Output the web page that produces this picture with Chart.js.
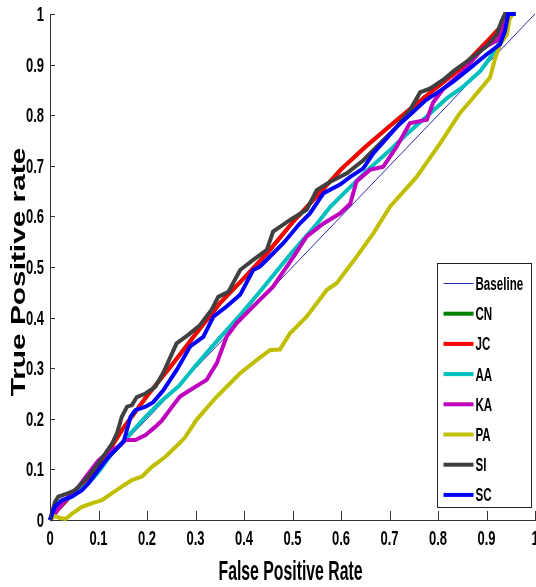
<!DOCTYPE html>
<html>
<head>
<meta charset="utf-8">
<script src="https://cdn.jsdelivr.net/npm/chart.js@4/dist/chart.umd.min.js"></script>
<style>
  html, body { margin: 0; padding: 0; background: #fff; overflow: hidden; }
  #wrap { width: 536px; height: 587px; overflow: hidden; }
</style>
</head>
<body>
<div id="wrap"><canvas id="roc" width="545" height="587"></canvas></div>
<script>
// etiquetas de los ejes
var xTickLabels = ['0','0.1','0.2','0.3','0.4','0.5','0.6','0.7','0.8','0.9','1'];
var yTickLabels = ['0','0.1','0.2','0.3','0.4','0.5','0.6','0.7','0.8','0.9','1'];
var xTitulo = 'False Positive Rate';
var yTitulo = 'True Positive rate';

// nombres de las curvas (orden de la leyenda)
var names = ['Baseline','CN','JC','AA','KA','PA','SI','SC'];

// puntos [FPR, TPR]
var baseline = [[0,0],[1,1]];

var jc = [[0,0],[0.02,0.025],[0.05,0.055],[0.08,0.085],[0.1,0.11],[0.13,0.15],[0.15,0.18],[0.2,0.245],
  [0.25,0.305],[0.3,0.367],[0.35,0.428],[0.4,0.478],[0.45,0.53],[0.5,0.588],[0.55,0.64],[0.6,0.693],
  [0.65,0.737],[0.7,0.778],[0.75,0.818],[0.8,0.857],[0.85,0.895],[0.9,0.945],[0.925,0.97],[0.94,0.99],
  [0.945,1],[0.96,1]];

// CN queda tapada por JC
var cn = [[0,0],[0.02,0.025],[0.05,0.055],[0.08,0.085],[0.1,0.11],[0.13,0.15],[0.15,0.18],[0.2,0.245],
  [0.25,0.305],[0.3,0.367],[0.35,0.428],[0.4,0.478],[0.45,0.53],[0.5,0.588],[0.55,0.64],[0.6,0.693],
  [0.65,0.737],[0.7,0.778],[0.75,0.818],[0.8,0.857],[0.85,0.895],[0.9,0.945],[0.925,0.97],[0.94,0.99],
  [0.945,1],[0.96,1]];

var aa = [[0,0],[0.015,0.025],[0.031,0.039],[0.055,0.055],[0.079,0.072],[0.1,0.095],[0.128,0.132],
  [0.16,0.165],[0.197,0.204],[0.23,0.235],[0.266,0.265],[0.3,0.305],[0.35,0.36],[0.392,0.405],
  [0.43,0.448],[0.46,0.483],[0.5,0.53],[0.55,0.585],[0.577,0.618],[0.6,0.64],[0.653,0.69],[0.7,0.73],
  [0.715,0.744],[0.75,0.775],[0.784,0.804],[0.82,0.835],[0.85,0.855],[0.887,0.887],[0.907,0.913],
  [0.928,0.946],[0.942,0.99],[0.95,1],[0.96,1]];

var ka = [[0,0],[0.015,0.02],[0.031,0.039],[0.059,0.066],[0.079,0.092],[0.1,0.118],[0.121,0.135],
  [0.141,0.145],[0.155,0.158],[0.176,0.158],[0.197,0.168],[0.217,0.184],[0.231,0.197],[0.252,0.224],
  [0.268,0.244],[0.289,0.257],[0.323,0.277],[0.344,0.31],[0.364,0.362],[0.385,0.389],[0.419,0.422],
  [0.46,0.461],[0.474,0.481],[0.502,0.52],[0.529,0.56],[0.564,0.586],[0.598,0.606],[0.619,0.625],
  [0.632,0.669],[0.66,0.692],[0.687,0.698],[0.715,0.738],[0.742,0.784],[0.777,0.791],[0.79,0.825],
  [0.811,0.852],[0.852,0.887],[0.893,0.933],[0.924,0.949],[0.942,1],[0.955,1]];

var pa = [[0,0],[0.01,0.008],[0.02,0.004],[0.032,0.002],[0.045,0.012],[0.066,0.026],[0.086,0.033],
  [0.107,0.039],[0.128,0.053],[0.148,0.066],[0.169,0.079],[0.19,0.086],[0.21,0.105],[0.238,0.125],
  [0.266,0.151],[0.279,0.164],[0.302,0.198],[0.344,0.244],[0.392,0.29],[0.426,0.316],[0.454,0.336],
  [0.474,0.337],[0.495,0.369],[0.529,0.402],[0.571,0.455],[0.591,0.468],[0.632,0.52],[0.667,0.567],
  [0.701,0.619],[0.756,0.678],[0.804,0.744],[0.845,0.804],[0.866,0.827],[0.907,0.874],[0.918,0.913],
  [0.928,0.94],[0.942,0.959],[0.948,0.992],[0.955,1]];

var si = [[0,0],[0.01,0.035],[0.017,0.046],[0.038,0.053],[0.05,0.058],[0.059,0.066],[0.079,0.086],
  [0.1,0.112],[0.128,0.151],[0.138,0.171],[0.148,0.204],[0.159,0.224],[0.169,0.227],[0.179,0.243],
  [0.197,0.25],[0.217,0.263],[0.234,0.292],[0.261,0.349],[0.285,0.366],[0.309,0.385],[0.333,0.415],
  [0.347,0.441],[0.368,0.451],[0.392,0.494],[0.419,0.514],[0.447,0.534],[0.46,0.57],[0.495,0.593],
  [0.529,0.613],[0.55,0.652],[0.577,0.668],[0.612,0.685],[0.646,0.711],[0.68,0.744],[0.715,0.777],
  [0.742,0.81],[0.763,0.845],[0.784,0.853],[0.811,0.87],[0.832,0.887],[0.865,0.91],[0.9,0.936],
  [0.921,0.959],[0.931,0.986],[0.938,1],[0.959,1]];

var sc = [[0,0],[0.01,0.026],[0.024,0.039],[0.045,0.046],[0.066,0.059],[0.079,0.072],[0.1,0.099],
  [0.121,0.125],[0.138,0.141],[0.152,0.155],[0.166,0.204],[0.176,0.217],[0.197,0.224],[0.213,0.233],
  [0.234,0.257],[0.261,0.296],[0.289,0.343],[0.316,0.362],[0.337,0.402],[0.364,0.422],[0.392,0.445],
  [0.419,0.494],[0.433,0.501],[0.481,0.547],[0.515,0.586],[0.536,0.606],[0.564,0.646],[0.598,0.663],
  [0.619,0.678],[0.646,0.695],[0.667,0.725],[0.715,0.777],[0.749,0.807],[0.775,0.83],[0.8,0.845],
  [0.832,0.867],[0.866,0.893],[0.9,0.92],[0.928,0.94],[0.938,0.966],[0.945,1],[0.96,1]];

var series = [baseline, cn, jc, aa, ka, pa, si, sc];
var colores = ['#2b2bb0','#007f00','#ff0000','#00bfbf','#bf00bf','#bfbf00','#404040','#0000ff'];

var datasets = [];
for (var i = 0; i < series.length; i++) {
  datasets.push({
    label: names[i],
    data: series[i].map(function(p){ return {x: p[0], y: p[1]}; }),
    borderColor: colores[i],
    backgroundColor: colores[i],
    borderWidth: i == 0 ? 1 : 4,
    pointRadius: 0,
    tension: 0,
    fill: false,
    clip: 6,
    // el ultimo se pinta encima (como en matlab)
    order: series.length - i
  });
}

var FAM = '"Liberation Sans", Arial, sans-serif';

// texto estirado en vertical (la figura original esta deformada)
function texto(ctx, t, x, y, size, sy, align){
  ctx.save();
  ctx.font = 'bold ' + size + 'px ' + FAM;
  ctx.textAlign = align;
  ctx.textBaseline = 'alphabetic';
  ctx.translate(x, y);
  ctx.scale(1, sy);
  // y = centro de las mayusculas
  ctx.fillText(t, 0, 0.716 * size / 2);
  ctx.restore();
}

// marcas hacia dentro + etiquetas y titulos de los ejes
var ejes = {
  id: 'ejes',
  afterDatasetsDraw: function(chart){
    var ctx = chart.ctx, a = chart.chartArea, x = chart.scales.x, y = chart.scales.y;
    ctx.save();
    ctx.strokeStyle = '#333';
    ctx.lineWidth = 1;
    ctx.beginPath();
    x.ticks.forEach(function(t){
      var px = Math.round(x.getPixelForValue(t.value)) + 0.5;
      ctx.moveTo(px, a.bottom); ctx.lineTo(px, a.bottom - 9);
    });
    y.ticks.forEach(function(t){
      var py = Math.round(y.getPixelForValue(t.value)) + 0.5;
      ctx.moveTo(a.left, py); ctx.lineTo(a.left + 5, py);
    });
    ctx.stroke();
    ctx.fillStyle = '#000';
    x.ticks.forEach(function(t, k){
      texto(ctx, xTickLabels[k], x.getPixelForValue(t.value), a.bottom + 18, 13, 1.5, 'center');
    });
    y.ticks.forEach(function(t, k){
      texto(ctx, yTickLabels[k], a.left - 6, y.getPixelForValue(t.value), 13, 1.5, 'right');
    });
    texto(ctx, xTitulo, (a.left + a.right) / 2 - 2, 570, 15.8, 1.77, 'center');
    // titulo vertical
    ctx.save();
    ctx.translate(17, 272);
    ctx.rotate(-Math.PI / 2);
    ctx.scale(1.42, 1);
    ctx.font = 'bold 21px ' + FAM;
    ctx.textAlign = 'center';
    ctx.textBaseline = 'alphabetic';
    ctx.fillText(yTitulo, 0, 0.716 * 21 / 2);
    ctx.restore();
    ctx.restore();
  }
};

// leyenda con caja abajo a la derecha
var cajaLeyenda = {
  id: 'cajaLeyenda',
  afterDraw: function(chart){
    var ctx = chart.ctx;
    var bx = 437.5, by = 263.5, bw = 94, bh = 244;
    ctx.save();
    ctx.fillStyle = '#fff';
    ctx.fillRect(bx, by, bw, bh);
    ctx.strokeStyle = '#222';
    ctx.lineWidth = 1;
    ctx.strokeRect(bx, by, bw, bh);
    chart.data.datasets.forEach(function(ds, k){
      var yy = by + 20 + k * 30.2;
      ctx.strokeStyle = ds.borderColor;
      ctx.lineWidth = ds.borderWidth;
      ctx.beginPath();
      ctx.moveTo(bx + 6, yy); ctx.lineTo(bx + 36, yy);
      ctx.stroke();
      ctx.fillStyle = '#000';
      texto(ctx, ds.label, bx + 38, yy, 11.6, 1.55, 'left');
    });
    ctx.restore();
  }
};

var ctx = document.getElementById('roc').getContext('2d');
var chart = new Chart(ctx, {
  type: 'line',
  data: { datasets: datasets },
  options: {
    responsive: false,
    animation: false,
    layout: { padding: { top: 14, right: 10, left: 0, bottom: 0 } },
    plugins: { legend: { display: false }, tooltip: { enabled: false } },
    scales: {
      x: {
        type: 'linear', min: 0, max: 1,
        ticks: { stepSize: 0.1, autoSkip: false, display: false },
        grid: { display: true, drawOnChartArea: false, drawTicks: false },
        border: { display: true, color: '#333', width: 1 },
        afterFit: function(s){ s.height = 67; }
      },
      y: {
        type: 'linear', min: 0, max: 1,
        ticks: { stepSize: 0.1, autoSkip: false, display: false },
        grid: { display: true, drawOnChartArea: false, drawTicks: false },
        border: { display: true, color: '#333', width: 1 },
        afterFit: function(s){ s.width = 50; }
      }
    }
  },
  plugins: [ejes, cajaLeyenda]
});
</script>
</body>
</html>
